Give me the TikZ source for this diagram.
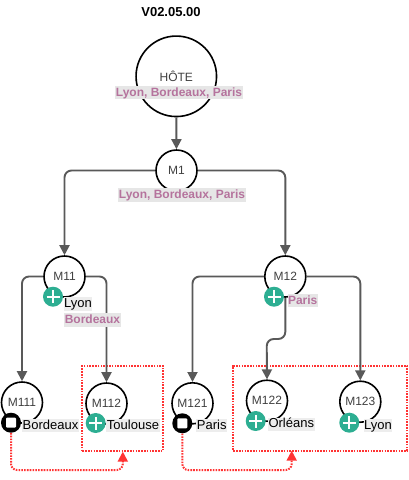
\documentclass[tikz,border=0pt]{standalone}
\usepackage{fontspec}
\setmainfont{Liberation Sans}
\usetikzlibrary{arrows.meta}
\definecolor{linkgray}{HTML}{595959}
\definecolor{pinktxt}{HTML}{B5739D}
\definecolor{lblbg}{HTML}{E6E6E6}
\definecolor{tealicon}{HTML}{2DAE92}
\definecolor{redbox}{HTML}{FF3333}
\tikzset{
  >={Triangle[length=10pt,width=10pt]},
  mod/.style={circle,draw=black,line width=1.6pt,fill=white,minimum size=41pt,inner sep=0pt,text=black!75,font=\fontsize{12}{14}\selectfont},
  link/.style={->,draw=linkgray,line width=1.9pt,rounded corners=7pt},
  city/.style={fill=lblbg!70,inner xsep=0.5pt,inner ysep=0.5pt,text height=9.5pt,text depth=2.8pt,font=\fontsize{13}{15}\selectfont},
  citypink/.style={fill=lblbg,inner xsep=0.5pt,inner ysep=0.5pt,text height=9.5pt,text depth=2.8pt,text=pinktxt,font=\fontsize{12}{14}\selectfont\bfseries},
  plusicon/.style={circle,fill=tealicon,minimum size=20pt,inner sep=0pt,path picture={
    \draw[white,line width=1.9pt] ([xshift=-6.5pt]path picture bounding box.center)--([xshift=6.5pt]path picture bounding box.center);
    \draw[white,line width=1.9pt] ([yshift=-6.5pt]path picture bounding box.center)--([yshift=6.5pt]path picture bounding box.center);}},
  stopicon/.style={circle,fill=black,minimum size=20pt,inner sep=0pt,path picture={
    \fill[white,rounded corners=1pt] ([shift={(-5pt,-5pt)}]path picture bounding box.center) rectangle ([shift={(5pt,5pt)}]path picture bounding box.center);}},
  zone/.style={draw=redbox,line width=2pt,dash pattern=on 1.6pt off 1.2pt},
  jump/.style={->,draw=redbox,line width=2pt,dash pattern=on 1.6pt off 1.2pt,rounded corners=6pt},
}
\begin{document}
\begin{tikzpicture}[x=1pt,y=-1pt]
\useasboundingbox (0,0) rectangle (408,480);
\node[font=\fontsize{13}{15}\selectfont\bfseries] (ver) at (171,12){V02.05.00};
\node[zone,minimum width=81pt,minimum height=84.7pt,inner sep=0pt] (box1) at (122.8,408.3){};
\node[zone,minimum width=174pt,minimum height=84.7pt,inner sep=0pt] (box2) at (320.3,408.3){};
\node[mod,minimum size=80.5pt] (hote) at (176.3,76.3){HÔTE};
\node[mod] (m1) at (176.5,170.5){M1};
\node[mod] (m11) at (64.5,276.5){M11}; \node[mod] (m12) at (285.3,276.5){M12};
\node[mod] (m111) at (22,402.5){M111}; \node[mod] (m112) at (106.5,403.5){M112};
\node[mod] (m121) at (192.5,403.3){M121}; \node[mod] (m122) at (267,400.7){M122};
\node[mod] (m123) at (360.3,401.7){M123};
\coordinate (bend) at (266.7,339); \coordinate (low1) at (60,470); \coordinate (low2) at (240,470);
\coordinate (tip2) at (291.7,450.7);
\draw[link] (hote)--(m1);
\draw[link] (m1.west)-|(m11.north); \draw[link] (m1.east)-|(m12.north);
\draw[link] (m11.west)-|(m111.north); \draw[link] (m11.east)-|(m112.north);
\draw[link] (m12.west)-|(m121.north); \draw[link] (m12.east)-|(m123.north);
\draw[link] (m12.south)|-(bend)--(m122.north);
\node[plusicon] (p11) at (53,296.7){}; \node[plusicon] (p12) at (274,296.7){};
\node[plusicon] (p112) at (95.7,423){}; \node[plusicon] (p122) at (255.7,421){};
\node[plusicon] (p123) at (349.3,422.7){};
\node[stopicon] (s111) at (11,422.7){}; \node[stopicon] (s121) at (182.3,423.3){};
\draw[jump] (s111.south)|-(low1)-|(box1.south);
\draw[jump] (s121.south)|-(low2)-|(tip2);
\node[citypink] (lhote) at (179,92.7){Lyon, Bordeaux, Paris};
\node[citypink] (lm1) at (182,195){Lyon, Bordeaux, Paris};
\node[city] (l11a) at (78,304){Lyon}; \node[citypink] (l11b) at (92.5,320){Bordeaux};
\node[citypink] (l12) at (302.7,300.7){Paris};
\node[city] (l111) at (50.5,425.7){Bordeaux}; \node[city] (l112) at (133,425.7){Toulouse};
\node[city] (l121) at (211.7,425.7){Paris}; \node[city] (l122) at (291.3,424.3){Orléans};
\node[city] (l123) at (378,425.7){Lyon};
\end{tikzpicture}
\end{document}
